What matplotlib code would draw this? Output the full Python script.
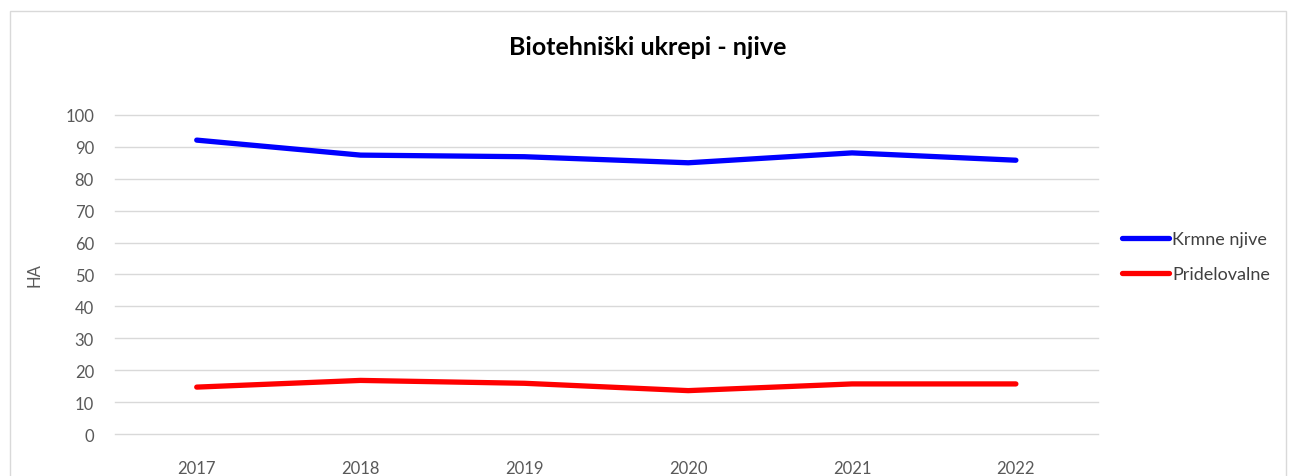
import matplotlib
matplotlib.use("Agg")
import matplotlib.pyplot as plt
from matplotlib.patches import Rectangle

years = ["2017", "2018", "2019", "2020", "2021", "2022"]
krmne = [92.1, 87.4, 86.9, 85.0, 88.1, 85.8]
pridelovalne = [14.7, 16.8, 15.9, 13.6, 15.7, 15.7]
yticks = list(range(0, 101, 10))

plt.rcParams['font.family'] = ['Lato', 'DejaVu Sans']

fig = plt.figure(figsize=(12.9, 4.77), dpi=100)
ax = fig.add_axes([0.089, 0.088, 0.762, 0.669])

x = range(len(years))
ax.plot(x, krmne, color="#0000ff", lw=3.8, solid_capstyle="round", label="Krmne njive")
ax.plot(x, pridelovalne, color="#ff0000", lw=3.8, solid_capstyle="round", label="Pridelovalne")

ax.set_xlim(-0.5, len(years) - 0.5)
ax.set_ylim(0, 100)
ax.set_yticks(yticks)
ax.set_xticks(list(x))
ax.set_xticklabels(years)
ax.grid(axis="y", color="#d9d9d9", lw=1)
for gl in ax.get_ygridlines():
    gl.set_clip_on(False)
ax.set_axisbelow(True)
for s in ax.spines.values():
    s.set_visible(False)
ax.tick_params(length=0, labelsize=12, colors="#595959")
ax.tick_params(axis="x", pad=19)
ax.tick_params(axis="y", pad=15)
ax.set_ylabel("HA", fontsize=12, color="#595959", labelpad=16)

fig.text(0.502, 0.9, "Biotehniški ukrepi - njive", ha="center", va="center",
         fontsize=18, fontweight="bold", color="black")

leg = ax.legend(loc="center left", bbox_to_anchor=(1.008, 0.555), frameon=False,
                fontsize=13, handlelength=2.6, labelspacing=1.05, handletextpad=0.2)
for t in leg.get_texts():
    t.set_color("#404040")

fig.patches.append(Rectangle((0.008, -0.1), 0.989, 1.075, transform=fig.transFigure,
                             fill=False, edgecolor="#d9d9d9", lw=1))

fig.savefig("out.png", dpi=100)
